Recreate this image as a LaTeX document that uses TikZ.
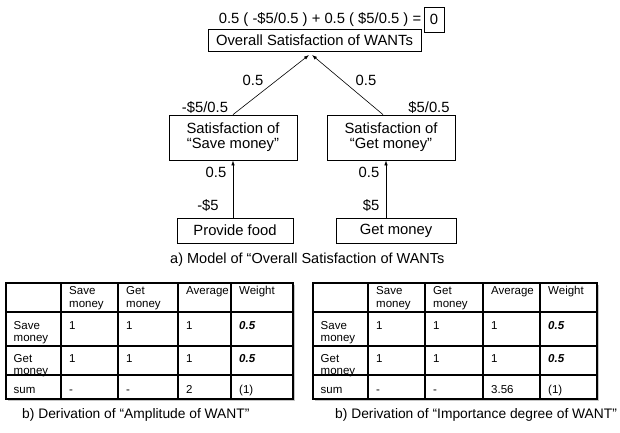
\documentclass[tikz,border=0pt]{standalone}
\usepackage{fontspec}
\setmainfont{Liberation Sans}
\usetikzlibrary{arrows.meta}
\begin{document}
\begin{tikzpicture}[x=1pt,y=-1pt,
  box/.style={draw,line width=0.8pt,inner sep=0pt,align=center,font=\fontsize{14.8}{15}\selectfont},
  lbl/.style={inner sep=0pt,font=\fontsize{14.8}{15}\selectfont},
  captext/.style={inner sep=0pt,anchor=base west,font=\fontsize{13.8}{16}\selectfont},
  cell/.style={inner sep=0pt,anchor=base west,font=\fontsize{11.5}{13}\selectfont},
  arr/.style={-{Latex[length=5pt,width=3.5pt]},line width=0.6pt},
  gridline/.style={line width=1.6pt,line cap=rect},
  shadowline/.style={line width=1pt,gray!45}]
\useasboundingbox (0,0) rectangle (620,432);

% --- model ---
\node[lbl] (formula) at (320,20) {0.5 ( -\$5/0.5 ) + 0.5 ( \$5/0.5 ) =};
\node[box,minimum width=20pt,minimum height=25pt] (zero) at (434,19.5) {0};
\node[box,minimum width=213pt,minimum height=22pt] (overall) at (314.5,40) {Overall Satisfaction of WANTs};
\node[box,minimum width=128pt,minimum height=45pt] (sat1) at (233,137.5) {Satisfaction of\\“Save money”};
\node[box,minimum width=128pt,minimum height=45pt] (sat2) at (391,137.5) {Satisfaction of\\“Get money”};
\node[box,minimum width=116pt,minimum height=25pt] (food) at (235,230.5) {Provide food};
\node[box,minimum width=120pt,minimum height=25pt] (get) at (396,230.5) {Get money};

\coordinate (tipL) at (309,55);
\coordinate (tipR) at (312,55);
\draw[arr] (sat1.north) -- (tipL);
\draw[arr] ([xshift=-8pt]sat2.north) -- (tipR);
\draw[arr] ([xshift=-2pt]food.north) -- (sat1.south);
\draw[arr] ([xshift=-10pt]get.north) -- ([xshift=-5pt]sat2.south);

\node[lbl] (w1) at (253,80) {0.5};
\node[lbl] (w2) at (366,80) {0.5};
\node[lbl] (v1) at (205,108) {-\$5/0.5};
\node[lbl] (v2) at (429,108) {\$5/0.5};
\node[lbl] (w3) at (216,172) {0.5};
\node[lbl] (w4) at (369,172) {0.5};
\node[lbl] (v3) at (208,206) {-\$5};
\node[lbl] (v4) at (371,206) {\$5};

\node[captext,font=\fontsize{14.5}{16}\selectfont] (capa) at (170,263) {a) Model of “Overall Satisfaction of WANTs};

% --- tables ---
\foreach \tn/\a/\b/\c/\d/\e/\f/\s in {L/6/61/118/178/231/293/2, R/313/368/425/483/540/597/3.56}{
  \draw[shadowline] (\a+2,400.5) -- (\f+1.5,400.5) -- (\f+1.5,285);
  \draw[gridline] (\a,283) rectangle (\f,399);
  \foreach \y in {312,346,375} \draw[gridline] (\a,\y) -- (\f,\y);
  \foreach \x in {\b,\c,\d,\e} \draw[gridline] (\x,283) -- (\x,399);
  % header
  \node[cell] (\tn h1a) at (\b+8,294) {Save};
  \node[cell] (\tn h1b) at (\b+8,307) {money};
  \node[cell] (\tn h2a) at (\c+8,294) {Get};
  \node[cell] (\tn h2b) at (\c+8,307) {money};
  \node[cell] (\tn h3) at (\d+8,294) {Average};
  \node[cell] (\tn h4) at (\e+8,294) {Weight};
  % row labels
  \node[cell] (\tn r1a) at (\a+7.5,329) {Save};
  \node[cell] (\tn r1b) at (\a+7.5,341) {money};
  \node[cell] (\tn r2a) at (\a+7.5,362) {Get};
  \node[cell] (\tn r2b) at (\a+7.5,374) {money};
  \node[cell] (\tn r3) at (\a+7.5,393) {sum};
  % data
  \node[cell] (\tn d11) at (\b+8,329) {1};
  \node[cell] (\tn d12) at (\c+8,329) {1};
  \node[cell] (\tn d13) at (\d+8,329) {1};
  \node[cell,font=\fontsize{11.5}{13}\selectfont\bfseries\itshape] (\tn d14) at (\e+8,329) {0.5};
  \node[cell] (\tn d21) at (\b+8,362) {1};
  \node[cell] (\tn d22) at (\c+8,362) {1};
  \node[cell] (\tn d23) at (\d+8,362) {1};
  \node[cell,font=\fontsize{11.5}{13}\selectfont\bfseries\itshape] (\tn d24) at (\e+8,362) {0.5};
  \node[cell] (\tn s1) at (\b+8,393) {-};
  \node[cell] (\tn s2) at (\c+8,393) {-};
  \node[cell] (\tn s3) at (\d+8,393) {\s};
  \node[cell] (\tn s4) at (\e+8,393) {(1)};
}

\node[captext] (capb1) at (22,418) {b) Derivation of “Amplitude of WANT”};
\node[captext] (capb2) at (335,418) {b) Derivation of “Importance degree of WANT”};
\end{tikzpicture}
\end{document}
